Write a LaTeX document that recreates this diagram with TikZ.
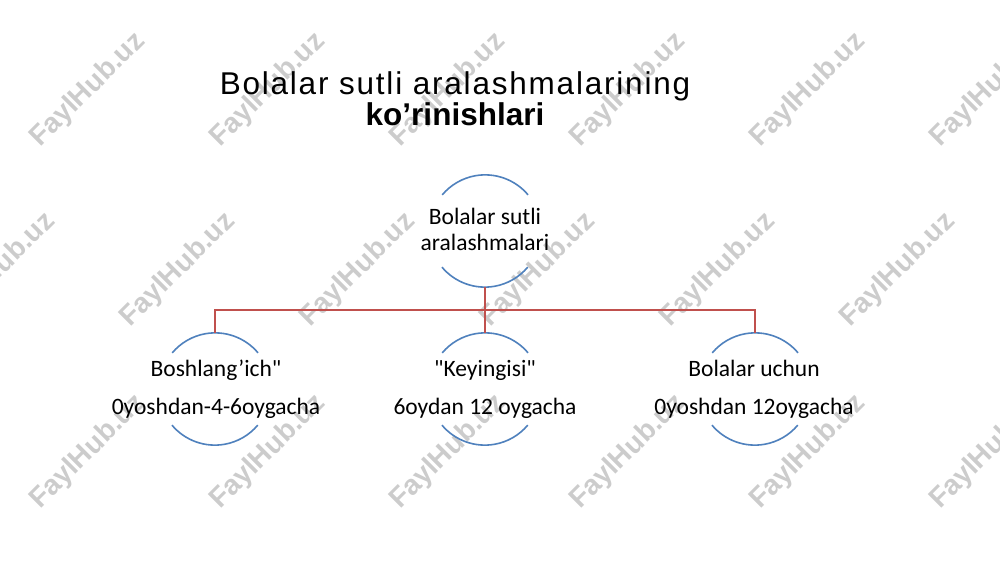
\documentclass[tikz,border=0pt]{standalone}
\usepackage{fontspec}
\setmainfont{Carlito}[Ligatures=TeXOff]
\newfontfamily\titlefont[LetterSpace=5.7]{Liberation Sans}
\newfontfamily\titleboldfont{Liberation Sans}
\newfontfamily\wmfont{Liberation Sans}
\definecolor{arcblue}{HTML}{4F81BD}
\definecolor{linkred}{HTML}{C0504D}
\begin{document}
\begin{tikzpicture}[x=1pt,y=1pt,
  ring/.style={circle,minimum size=112pt,inner sep=0pt,draw=none},
  arcst/.style={draw=arcblue,line width=1.6pt},
  conn/.style={draw=linkred,line width=1.6pt},
  lbl/.style={anchor=base,inner sep=0pt,font=\fontsize{23.5}{26}\selectfont},
  wm/.style={rotate=45,inner sep=0pt,text=black!20,font=\wmfont\bfseries\fontsize{28}{30}\selectfont}]
\fill[white] (0,0) rectangle (1000,562);
\useasboundingbox (0,0) rectangle (1000,562);
% watermarks
\foreach \x in {88,268,448,628,808,988} {
  \node[wm] at (\x,472) {FaylHub.uz};
  \node[wm] at (\x,110) {FaylHub.uz};
}
\foreach \x in {-2,178,358,538,718,898} {
  \node[wm] at (\x,292) {FaylHub.uz};
}
% title
\node[anchor=base,inner sep=0pt,font=\titlefont\fontsize{31.5}{32}\selectfont] (title1) at (455,467) {Bolalar sutli aralashmalarining};
\node[anchor=base,inner sep=0pt,font=\titleboldfont\bfseries\fontsize{31.5}{32}\selectfont] (title2) at (455,436) {ko’rinishlari};
% rings
\node[ring] (n0) at (485,331) {};
\node[ring] (n1) at (215,173) {};
\node[ring] (n2) at (485,173) {};
\node[ring] (n3) at (755,173) {};
\foreach \n in {n0,n1,n2,n3} {
  \draw[arcst] (\n.40) arc[start angle=40,end angle=140,radius=56pt];
  \draw[arcst] (\n.220) arc[start angle=220,end angle=320,radius=56pt];
}
% connectors
\coordinate (bus) at (485,252);
\draw[conn] (n0.south) -- (n2.north);
\draw[conn] (n1.north) |- (bus) -| (n3.north);
% labels
\node[lbl] (t0a) at (485,337) {Bolalar sutli};
\node[lbl] (t0b) at (485,311) {aralashmalari};
\node[lbl] (t1a) at (216,185) {Boshlang’ich"};
\node[lbl] (t1b) at (216,147) {0yoshdan-4-6oygacha};
\node[lbl] (t2a) at (485,185) {"Keyingisi"};
\node[lbl] (t2b) at (485,147) {6oydan 12 oygacha};
\node[lbl] (t3a) at (754,185) {Bolalar uchun};
\node[lbl] (t3b) at (754,147) {0yoshdan 12oygacha};
\end{tikzpicture}
\end{document}
